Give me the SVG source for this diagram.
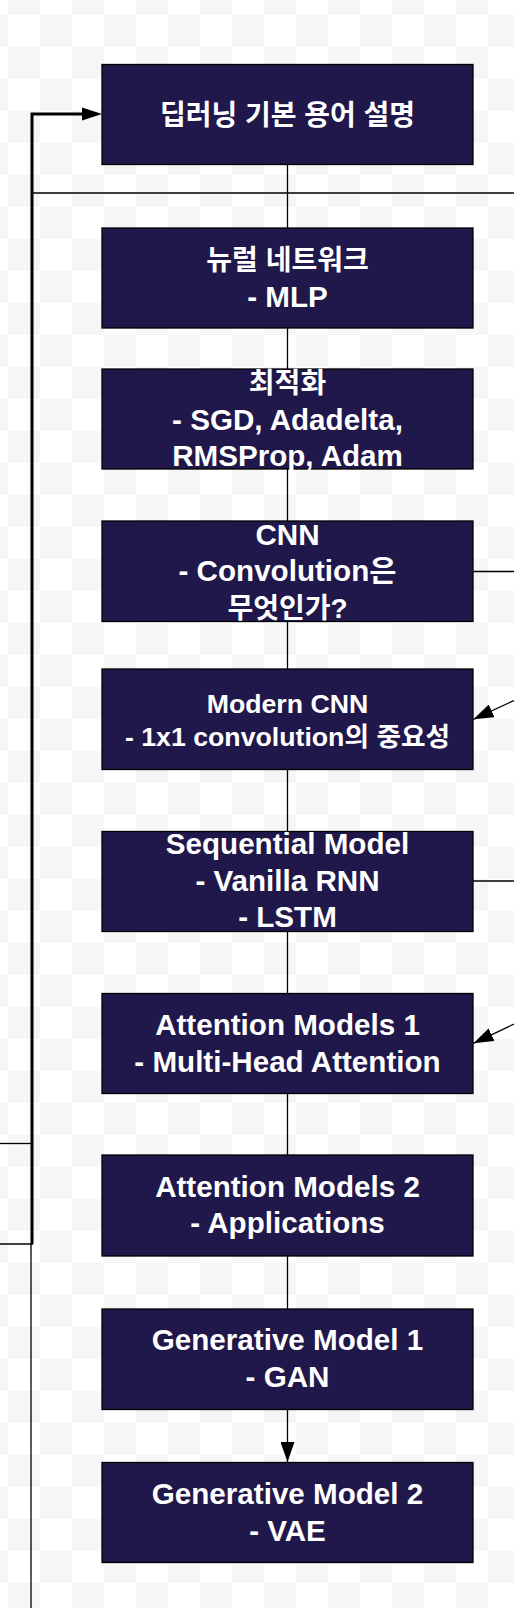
<svg xmlns="http://www.w3.org/2000/svg" width="514" height="1608" viewBox="0 0 514 1608">
  <defs>
    <pattern id="checker" x="8" y="15" width="64" height="64" patternUnits="userSpaceOnUse">
      <rect x="0" y="0" width="64" height="64" fill="#ffffff"/>
      <rect x="32" y="0" width="32" height="32" fill="#f6f6f6"/>
      <rect x="0" y="32" width="32" height="32" fill="#f6f6f6"/>
    </pattern>
    <marker id="arrow" viewBox="0 0 20 14" refX="20" refY="7" markerWidth="20" markerHeight="14" markerUnits="userSpaceOnUse" orient="auto">
      <path d="M0,0 L20,7 L0,14 Z" fill="#000"/>
    </marker>
  </defs>
  <style>
    .node rect { fill: #20184a; stroke: #000; stroke-width: 1.3; }
    .node text { fill: #ffffff; font-family: "Liberation Sans", "Noto Sans CJK KR", sans-serif; font-weight: bold; font-size: 29.6px; text-anchor: middle; }
    .node text.ko { font-size: 28px; }
    .node.small text { font-size: 26.7px; }
    .conn { fill: none; stroke: #000; stroke-width: 1.3; }
    .thick { fill: none; stroke: #000; stroke-width: 3; }
  </style>
  <rect x="0" y="0" width="514" height="1608" fill="url(#checker)"/>

  <g id="connectors">
    <path class="thick" d="M32,1244 V114 H82"/>
    <path d="M82,107.5 L102,114 L82,120.5 Z" fill="#000"/>
    <path class="conn" d="M31,1244 V1608"/>
    <path class="conn" d="M0,1143.5 H31"/>
    <path class="conn" d="M0,1244 H33"/>
    <path class="conn" d="M33,193 H514"/>
    <path class="conn" d="M287.5,164.5 V228"/>
    <path class="conn" d="M287.5,328 V369"/>
    <path class="conn" d="M287.5,469 V521"/>
    <path class="conn" d="M287.5,621.5 V669"/>
    <path class="conn" d="M287.5,769.5 V831.5"/>
    <path class="conn" d="M287.5,931.5 V993.5"/>
    <path class="conn" d="M287.5,1093.5 V1155"/>
    <path class="conn" d="M287.5,1256 V1309"/>
    <path class="conn" d="M287.5,1409.5 V1462" marker-end="url(#arrow)"/>
    <path class="conn" d="M473,571.5 H514"/>
    <path class="conn" d="M473,881 H514"/>
    <path class="conn" d="M514,700.5 L473.5,719.3" marker-end="url(#arrow)"/>
    <path class="conn" d="M514,1024 L473.5,1043.3" marker-end="url(#arrow)"/>
  </g>

  <g id="node1" class="node">
    <rect x="102" y="64.5" width="371" height="100"/>
    <text class="ko" x="287.5" y="125">딥러닝 기본 용어 설명</text>
  </g>
  <g id="node2" class="node">
    <rect x="102" y="228" width="371" height="100"/>
    <text class="ko" x="287.5" y="270">뉴럴 네트워크</text>
    <text x="287.5" y="306.5">- MLP</text>
  </g>
  <g id="node3" class="node">
    <rect x="102" y="369" width="371" height="100"/>
    <text class="ko" x="287.5" y="393">최적화</text>
    <text x="287.5" y="429.5">- SGD, Adadelta,</text>
    <text x="287.5" y="466">RMSProp, Adam</text>
  </g>
  <g id="node4" class="node">
    <rect x="102" y="521" width="371" height="100.5"/>
    <text x="287.5" y="544.5">CNN</text>
    <text x="287.5" y="581">- Convolution은</text>
    <text class="ko" x="287.5" y="617.5">무엇인가?</text>
  </g>
  <g id="node5" class="node small">
    <rect x="102" y="669" width="371" height="100.5"/>
    <text x="287.5" y="712.5">Modern CNN</text>
    <text x="287.5" y="746">- 1x1 convolution의 중요성</text>
  </g>
  <g id="node6" class="node">
    <rect x="102" y="831.5" width="371" height="100"/>
    <text x="287.5" y="854">Sequential Model</text>
    <text x="287.5" y="890.5">- Vanilla RNN</text>
    <text x="287.5" y="927">- LSTM</text>
  </g>
  <g id="node7" class="node">
    <rect x="102" y="993.5" width="371" height="100"/>
    <text x="287.5" y="1035">Attention Models 1</text>
    <text x="287.5" y="1071.5">- Multi-Head Attention</text>
  </g>
  <g id="node8" class="node">
    <rect x="102" y="1155" width="371" height="101"/>
    <text x="287.5" y="1196.5">Attention Models 2</text>
    <text x="287.5" y="1233">- Applications</text>
  </g>
  <g id="node9" class="node">
    <rect x="102" y="1309" width="371" height="100.5"/>
    <text x="287.5" y="1350">Generative Model 1</text>
    <text x="287.5" y="1387">- GAN</text>
  </g>
  <g id="node10" class="node">
    <rect x="102" y="1462.5" width="371" height="100"/>
    <text x="287.5" y="1504">Generative Model 2</text>
    <text x="287.5" y="1540.5">- VAE</text>
  </g>
</svg>
